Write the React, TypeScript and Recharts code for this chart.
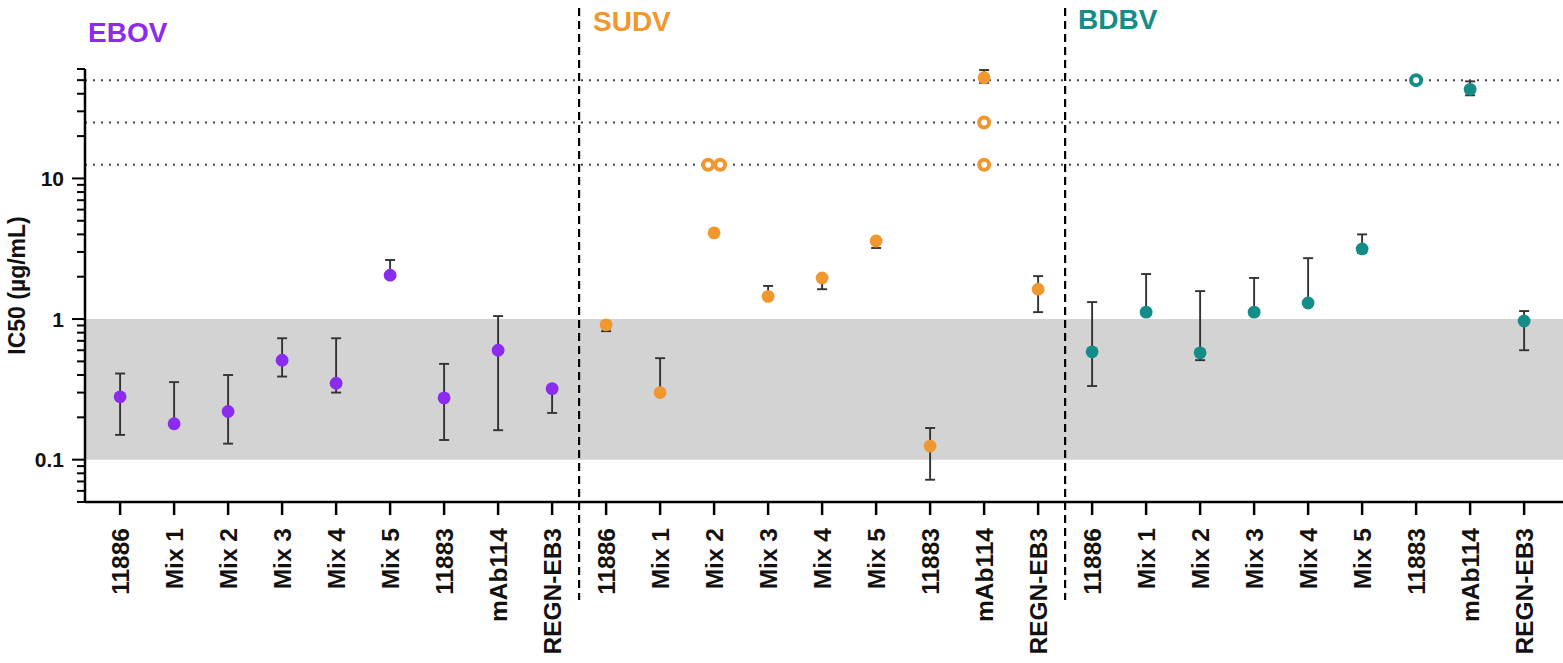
import {
  ErrorBar,
  ReferenceArea,
  ReferenceLine,
  Scatter,
  ScatterChart,
  XAxis,
  YAxis
} from "recharts";

// antibodies, same order in each virus panel
const categories = ["11886", "Mix 1", "Mix 2", "Mix 3", "Mix 4", "Mix 5", "11883", "mAb114", "REGN-EB3"];
const groups = ["EBOV", "SUDV", "BDBV"];

// IC50 (µg/mL); null = no value / no bar on that side
const ebovValues = [0.28, 0.18, 0.22, 0.51, 0.35, 2.05, 0.275, 0.6, 0.32];
const ebovLow = [0.15, null, 0.13, 0.39, 0.3, null, 0.138, 0.162, 0.215];
const ebovHigh = [0.41, 0.356, 0.4, 0.73, 0.73, 2.63, 0.48, 1.05, null];

const sudvValues = [0.91, 0.3, 4.1, 1.45, 1.96, 3.59, 0.125, 52, 1.63];
const sudvLow = [0.82, null, null, null, 1.63, 3.2, 0.072, 47.8, 1.12];
const sudvHigh = [0.95, 0.527, null, 1.72, null, null, 0.168, 59, 2.02];

const bdbvValues = [0.585, 1.12, 0.575, 1.12, 1.3, 3.15, null, 43, 0.97];
const bdbvLow = [0.334, null, 0.51, null, null, 2.95, null, 39, 0.6];
const bdbvHigh = [1.32, 2.09, 1.58, 1.96, 2.71, 4.0, null, 49, 1.14];

// replicates that did not reach IC50 (plotted at the top concentration tested)
const sudvOpen = [
  { cat: "Mix 2", value: 12.5, n: 2 },
  { cat: "mAb114", value: 25, n: 1 },
  { cat: "mAb114", value: 12.5, n: 1 }
];
const bdbvOpen = [{ cat: "11883", value: 50, n: 1 }];

const limitLines = [50, 25, 12.5];
const yTicks = [
  0.05, 0.06, 0.07, 0.08, 0.09, 0.1, 0.2, 0.3, 0.4, 0.5, 0.6, 0.7, 0.8, 0.9, 1, 2, 3, 4, 5, 6, 7, 8, 9,
  10, 20, 30, 40, 50, 60
];
const yMajor = [0.1, 1, 10];

const colors = { EBOV: "#8b2bf0", SUDV: "#f0972f", BDBV: "#148c88" };
const FONT = "'Liberation Sans', Arial, Helvetica, sans-serif";

function buildPoints(g: number, values: (number | null)[], low: (number | null)[], high: (number | null)[]) {
  return values
    .map((v, i) =>
      v == null
        ? null
        : {
            x: g * categories.length + i,
            y: v,
            err: [low[i] == null ? 0 : v - (low[i] as number), high[i] == null ? 0 : (high[i] as number) - v]
          }
    )
    .filter(Boolean);
}

function buildOpen(g: number, list: { cat: string; value: number; n: number }[]) {
  return list.map((d) => ({ x: g * categories.length + categories.indexOf(d.cat), y: d.value, n: d.n }));
}

const ebovData = buildPoints(0, ebovValues, ebovLow, ebovHigh);
const sudvData = buildPoints(1, sudvValues, sudvLow, sudvHigh);
const bdbvData = buildPoints(2, bdbvValues, bdbvLow, bdbvHigh);
const sudvOpenData = buildOpen(1, sudvOpen);
const bdbvOpenData = buildOpen(2, bdbvOpen);

const allTicks = Array.from({ length: categories.length * groups.length }, (_, i) => i);

const dot = (color: string) => (props: any) => <circle cx={props.cx} cy={props.cy} r={6.4} fill={color} />;

const ring = (color: string) => (props: any) => {
  const n = props.payload?.n ?? 1;
  return (
    <g>
      {Array.from({ length: n }, (_, k) => (
        <circle
          key={k}
          cx={props.cx + (k - (n - 1) / 2) * 12}
          cy={props.cy}
          r={5}
          fill="#fff"
          stroke={color}
          strokeWidth={4}
        />
      ))}
    </g>
  );
};

function XTick(props: any) {
  const { x, y, payload } = props;
  const ty = y + 26;
  return (
    <g>
      <line x1={x} x2={x} y1={y} y2={y + 13} stroke="#000" strokeWidth={2.5} />
      <text
        x={x}
        y={ty}
        dy="0.36em"
        transform={`rotate(-90 ${x} ${ty})`}
        textAnchor="end"
        fontFamily={FONT}
        fontWeight="bold"
        fontSize={24.5}
        fill="#111"
      >
        {categories[payload.value % categories.length]}
      </text>
    </g>
  );
}

function YTick(props: any) {
  const { x, y, payload } = props;
  const major = yMajor.includes(payload.value);
  return (
    <g>
      <line x1={x - (major ? 13 : 8)} x2={x} y1={y} y2={y} stroke="#000" strokeWidth={2} />
      {major && (
        <text
          x={x - 21}
          y={y}
          dy="0.36em"
          textAnchor="end"
          fontFamily={FONT}
          fontWeight="bold"
          fontSize={21}
          fill="#111"
        >
          {payload.value}
        </text>
      )}
    </g>
  );
}

function YLabel(props: any) {
  const vb = props.viewBox;
  const cx = vb.x + 17;
  const cy = vb.y + vb.height / 2;
  return (
    <text
      x={cx}
      y={cy}
      dy="0.36em"
      transform={`rotate(-90 ${cx} ${cy})`}
      textAnchor="middle"
      fontFamily={FONT}
      fontWeight="bold"
      fontSize={23}
      fill="#111"
    >
      IC50 (µg/mL)
    </text>
  );
}

const divider = (props: any) => (
  <line x1={props.x1} x2={props.x2} y1={8} y2={600} stroke="#000" strokeWidth={2.2} strokeDasharray="8 5" />
);

const titlePos = [
  { left: 88, top: 19 },
  { left: 593, top: 8 },
  { left: 1078, top: 6 }
];

export default function App() {
  return (
    <div style={{ position: "relative", width: 1563, height: 663, background: "#fff" }}>
      <style>{"body{margin:0}"}</style>
      <ScatterChart width={1563} height={663} margin={{ top: 69, right: 0, bottom: 0, left: 0 }}>
        <XAxis
          type="number"
          dataKey="x"
          domain={[-0.65, 26.72]}
          ticks={allTicks}
          interval={0}
          allowDataOverflow
          height={161}
          tickSize={0}
          tickMargin={0}
          tickLine={false}
          axisLine={{ stroke: "#000", strokeWidth: 2.5 }}
          tick={<XTick />}
        />
        <YAxis
          type="number"
          dataKey="y"
          scale="log"
          domain={[0.05, 60]}
          ticks={yTicks}
          interval={0}
          allowDataOverflow
          width={85}
          tickSize={0}
          tickMargin={0}
          tickLine={false}
          axisLine={{ stroke: "#000", strokeWidth: 2.5 }}
          tick={<YTick />}
          label={<YLabel />}
        />
        <ReferenceArea y1={0.1} y2={1} fill="#d3d3d3" fillOpacity={1} stroke="none" />
        {limitLines.map((v) => (
          <ReferenceLine key={v} y={v} stroke="#444" strokeWidth={2} strokeDasharray="2 6" />
        ))}
        {[1, 2].map((g) => (
          <ReferenceLine key={g} x={g * categories.length - 0.5} shape={divider} />
        ))}
        <Scatter data={ebovData} shape={dot(colors.EBOV)} isAnimationActive={false}>
          <ErrorBar dataKey="err" direction="y" width={5} stroke="#333" strokeWidth={1.9} />
        </Scatter>
        <Scatter data={sudvData} shape={dot(colors.SUDV)} isAnimationActive={false}>
          <ErrorBar dataKey="err" direction="y" width={5} stroke="#333" strokeWidth={1.9} />
        </Scatter>
        <Scatter data={bdbvData} shape={dot(colors.BDBV)} isAnimationActive={false}>
          <ErrorBar dataKey="err" direction="y" width={5} stroke="#333" strokeWidth={1.9} />
        </Scatter>
        <Scatter data={sudvOpenData} shape={ring(colors.SUDV)} isAnimationActive={false} />
        <Scatter data={bdbvOpenData} shape={ring(colors.BDBV)} isAnimationActive={false} />
      </ScatterChart>
      {groups.map((g, i) => (
        <div
          key={g}
          style={{
            position: "absolute",
            left: titlePos[i].left,
            top: titlePos[i].top,
            fontFamily: FONT,
            fontWeight: "bold",
            fontSize: 28,
            lineHeight: "28px",
            color: colors[g as keyof typeof colors]
          }}
        >
          {g}
        </div>
      ))}
    </div>
  );
}
